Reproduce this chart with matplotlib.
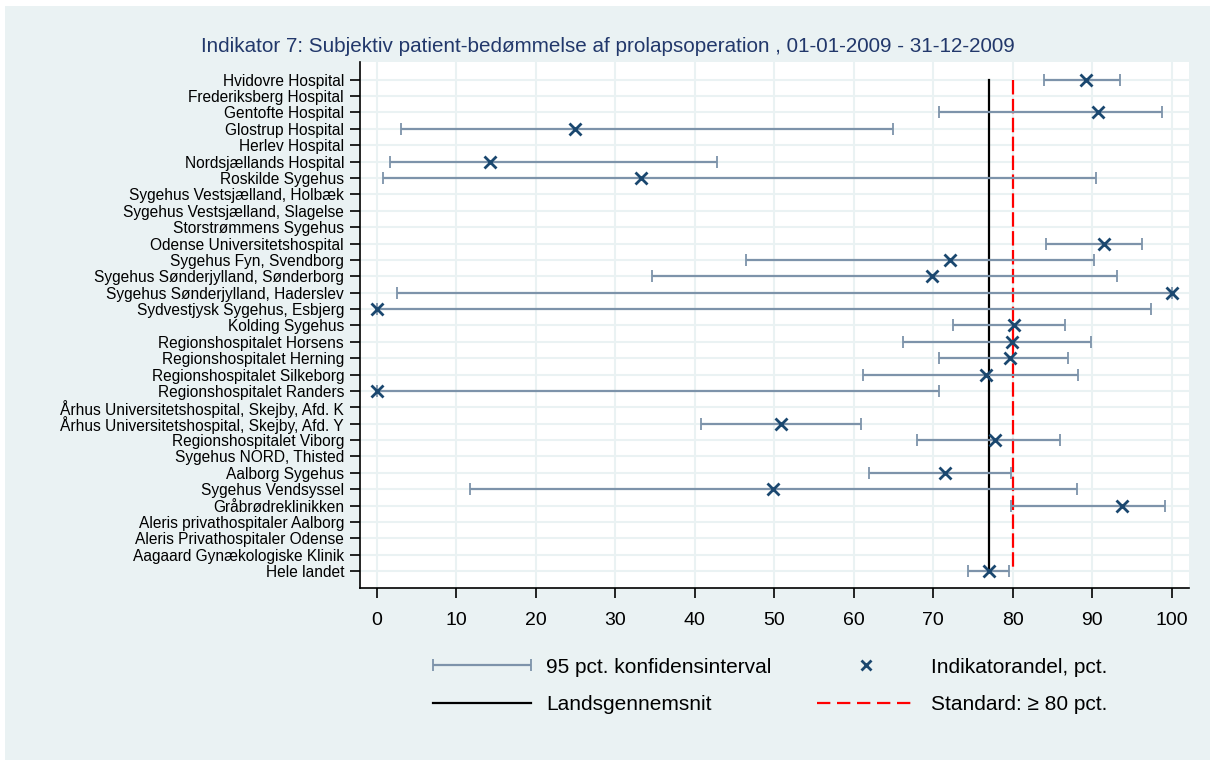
import numpy as np
import matplotlib.pyplot as plt
from matplotlib.lines import Line2D
from matplotlib.patches import Rectangle
from matplotlib.legend_handler import HandlerErrorbar

plt.rcParams['font.family'] = ['Liberation Sans', 'DejaVu Sans']

hospitals = [
    "Hvidovre Hospital", "Frederiksberg Hospital", "Gentofte Hospital",
    "Glostrup Hospital", "Herlev Hospital", "Nordsjællands Hospital",
    "Roskilde Sygehus", "Sygehus Vestsjælland, Holbæk",
    "Sygehus Vestsjælland, Slagelse", "Storstrømmens Sygehus",
    "Odense Universitetshospital", "Sygehus Fyn, Svendborg",
    "Sygehus Sønderjylland, Sønderborg", "Sygehus Sønderjylland, Haderslev",
    "Sydvestjysk Sygehus, Esbjerg", "Kolding Sygehus",
    "Regionshospitalet Horsens", "Regionshospitalet Herning",
    "Regionshospitalet Silkeborg", "Regionshospitalet Randers",
    "Århus Universitetshospital, Skejby, Afd. K",
    "Århus Universitetshospital, Skejby, Afd. Y",
    "Regionshospitalet Viborg", "Sygehus NORD, Thisted", "Aalborg Sygehus",
    "Sygehus Vendsyssel", "Gråbrødreklinikken",
    "Aleris privathospitaler Aalborg", "Aleris Privathospitaler Odense",
    "Aagaard Gynækologiske Klinik", "Hele landet",
]
nan = np.nan
andel = [89.3, nan, 90.8, 25.0, nan, 14.2, 33.3, nan, nan, nan,
         91.5, 72.1, 69.9, 100.0, 0.0, 80.2, 79.9, 79.7, 76.7, 0.0,
         nan, 50.9, 77.8, nan, 71.5, 49.9, 93.8, nan, nan, nan, 77.1]
ci_low = [84.0, nan, 70.8, 3.1, nan, 1.7, 0.8, nan, nan, nan,
          84.2, 46.5, 34.7, 2.5, 0.0, 72.5, 66.2, 70.8, 61.2, 0.0,
          nan, 40.8, 68.0, nan, 62.0, 11.7, 79.8, nan, nan, nan, 74.4]
ci_high = [93.5, nan, 98.8, 65.0, nan, 42.8, 90.5, nan, nan, nan,
           96.3, 90.2, 93.2, 100.0, 97.4, 86.6, 89.9, 87.0, 88.2, 70.7,
           nan, 60.9, 86.0, nan, 79.8, 88.1, 99.2, nan, nan, nan, 79.6]
landsgennemsnit = 77.1
standard = 80

bg = '#eaf2f3'
ci_color = '#7d93aa'
marker_color = '#1a476f'

fig = plt.figure(figsize=(12.15, 7.64), dpi=100, facecolor='white')
fig.patches.append(Rectangle((5 / 1215, 4 / 764), 1205 / 1215, 754 / 764,
                             transform=fig.transFigure, facecolor=bg,
                             edgecolor='none', zorder=-1))

ax = fig.add_axes([360 / 1215, 1 - 588 / 764, 829 / 1215, 526 / 764])
ax.set_facecolor('white')

y = np.arange(len(hospitals))
andel = np.array(andel)
lo = np.array(ci_low)
hi = np.array(ci_high)

# konfidensintervaller + punkter
eb = ax.errorbar(andel, y, xerr=[andel - lo, hi - andel], fmt='none',
                 ecolor=ci_color, elinewidth=1.6, capsize=4.5, capthick=1.3,
                 zorder=3)
ax.plot(andel, y, linestyle='none', marker='x', markersize=8,
        markeredgewidth=2, color=marker_color, zorder=4)
# landsgennemsnit og standard
ax.plot([landsgennemsnit] * 2, [y[0], y[-1]], color='black', lw=1.6, zorder=2)
ax.plot([standard] * 2, [y[0], y[-1]], color='red', lw=1.6,
        dashes=(6.5, 2), zorder=2)

ax.set_xlim(-2.1, 102.2)
ax.set_ylim(len(hospitals) - 1 + 1.03, -1.08)
ax.set_xticks(np.arange(0, 101, 10))
ax.set_yticks(y)
ax.set_yticklabels(hospitals)
ax.grid(True, color=bg, lw=1.5)
ax.set_axisbelow(True)
for s in ['top', 'right']:
    ax.spines[s].set_visible(False)
for s in ['left', 'bottom']:
    ax.spines[s].set_linewidth(1.2)
ax.tick_params(axis='y', length=7.5, width=1.2, pad=4, labelsize=11.2)
ax.tick_params(axis='x', length=7.5, width=1.2, pad=10, labelsize=14)

fig.text(0.5, 1 - 46 / 764, 'Indikator 7: Subjektiv patient-bedømmelse af '
         'prolapsoperation , 01-01-2009 - 31-12-2009',
         ha='center', va='center', fontsize=14.9, color='#22386b')

h_ci = eb
h_mark = Line2D([], [], linestyle='none', marker='x', markersize=6.5,
                markeredgewidth=2, color=marker_color)
h_land = Line2D([], [], color='black', lw=1.6)
h_std = Line2D([], [], color='red', lw=1.6, dashes=(6, 3))
fig.legend([h_ci, h_land, h_mark, h_std],
           ['95 pct. konfidensinterval', 'Landsgennemsnit',
            'Indikatorandel, pct.', 'Standard: \u2265 80 pct.'],
           ncol=2, frameon=False, fontsize=15, handlelength=4.7,
           handletextpad=0.75, columnspacing=2.2, labelspacing=0.9,
           loc='center', bbox_to_anchor=(770 / 1215, 1 - 686 / 764),
           handler_map={type(eb): HandlerErrorbar(xerr_size=2.35)})

fig.savefig('out.png', dpi=100, facecolor='white')
